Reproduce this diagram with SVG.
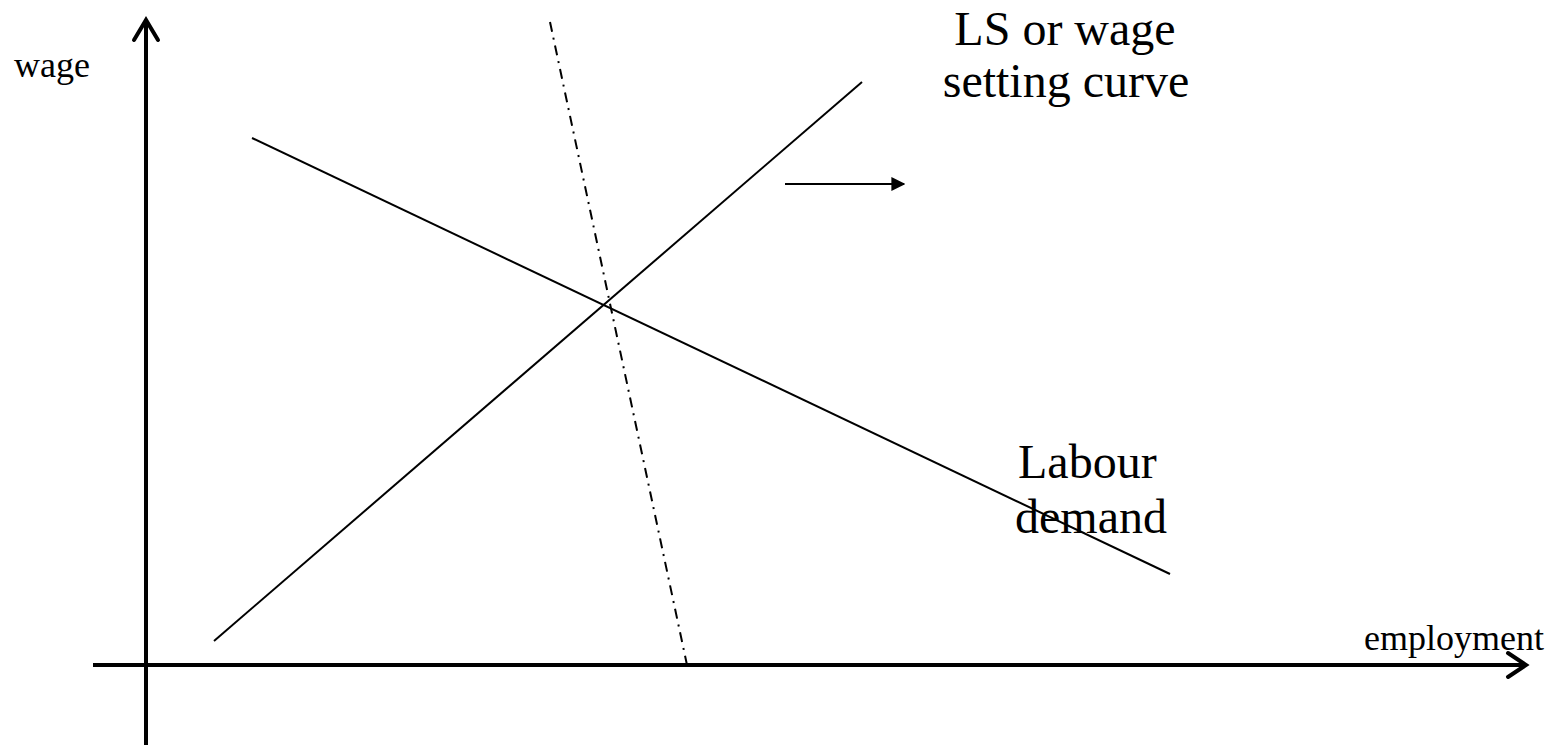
<svg xmlns="http://www.w3.org/2000/svg" width="1554" height="745" viewBox="0 0 1554 745">
<style>
.axis{stroke:#000;stroke-width:4;fill:none}
.curve{stroke:#000;stroke-width:2;fill:none}
.dd{stroke:#000;stroke-width:2;fill:none;stroke-dasharray:10 6 2 6}
.t{font-family:"Liberation Serif",serif;fill:#000}
.s{font-size:36px}
.l{font-size:48px}
</style>
<defs>
<marker id="tri" viewBox="0 0 10 10" refX="9" refY="5" markerWidth="14" markerHeight="14" markerUnits="userSpaceOnUse" orient="auto">
<path d="M0,0 L10,5 L0,10 z" fill="#000"/>
</marker>
</defs>
<g id="connectors">
<line class="axis" x1="146" y1="745" x2="146" y2="22"/>
<polyline class="axis" points="134,40 146,20 158,40" stroke-linecap="round"/>
<line class="axis" x1="93" y1="665" x2="1526" y2="665"/>
<polyline class="axis" points="1508,653 1526,665 1508,677" stroke-linecap="round"/>
<line class="curve" x1="214" y1="641" x2="862" y2="82"/>
<line class="curve" x1="252" y1="138" x2="1170" y2="574"/>
<line class="dd" x1="550" y1="22" x2="687" y2="665"/>
<line class="curve" x1="785" y1="184" x2="904" y2="184" marker-end="url(#tri)"/>
</g>
<g id="label-wage"><text class="t s" x="14" y="77">wage</text></g>
<g id="label-employment"><text class="t s" x="1544" y="650" text-anchor="end">employment</text></g>
<g id="label-ls"><text class="t l" x="1065" y="45" text-anchor="middle">LS or wage</text><text class="t l" x="1066" y="97" text-anchor="middle">setting curve</text></g>
<g id="label-ld"><text class="t l" x="1018" y="478">Labour</text><text class="t l" x="1015" y="533">demand</text></g>
</svg>
